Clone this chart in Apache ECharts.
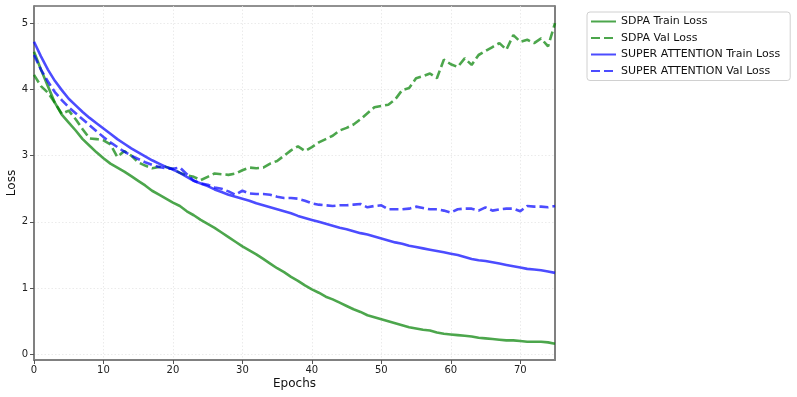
<!DOCTYPE html>
<html>
<head>
<meta charset="utf-8">
<script src="https://cdn.jsdelivr.net/npm/echarts@6/dist/echarts.min.js"></script>
<style>html,body{margin:0;padding:0;background:#fff}#c{width:797px;height:397px}</style>
</head>
<body>
<div id="c"></div>
<script>
const epochs = Array.from({length: 76}, (_, i) => i);
const sdpaTrain = [4.57,4.30,4.05,3.80,3.62,3.50,3.38,3.25,3.15,3.05,2.96,2.88,2.82,2.76,2.69,2.62,2.55,2.47,2.41,2.35,2.29,2.24,2.16,2.10,2.03,1.97,1.91,1.84,1.77,1.70,1.63,1.57,1.51,1.44,1.37,1.30,1.24,1.17,1.11,1.04,0.98,0.93,0.87,0.83,0.78,0.73,0.68,0.64,0.59,0.56,0.53,0.50,0.47,0.44,0.41,0.39,0.37,0.36,0.33,0.31,0.30,0.29,0.28,0.27,0.25,0.24,0.23,0.22,0.21,0.21,0.20,0.19,0.19,0.19,0.18,0.16];
const sdpaVal = [4.22,4.05,3.95,3.80,3.63,3.68,3.55,3.40,3.26,3.25,3.23,3.17,2.98,3.07,3.00,2.90,2.85,2.81,2.83,2.83,2.80,2.74,2.70,2.68,2.63,2.68,2.73,2.72,2.71,2.73,2.78,2.82,2.81,2.82,2.88,2.92,3.00,3.08,3.14,3.07,3.13,3.20,3.25,3.30,3.38,3.42,3.47,3.55,3.64,3.73,3.75,3.77,3.85,3.99,4.02,4.17,4.20,4.24,4.17,4.45,4.38,4.34,4.47,4.37,4.52,4.58,4.64,4.70,4.60,4.82,4.72,4.75,4.70,4.77,4.65,5.00];
const superTrain = [4.72,4.50,4.30,4.13,3.99,3.86,3.76,3.66,3.57,3.49,3.41,3.33,3.25,3.18,3.11,3.05,2.99,2.93,2.88,2.83,2.79,2.74,2.68,2.62,2.58,2.54,2.49,2.45,2.41,2.38,2.35,2.32,2.28,2.25,2.22,2.19,2.16,2.13,2.09,2.06,2.03,2.00,1.97,1.94,1.91,1.89,1.86,1.83,1.81,1.78,1.75,1.72,1.69,1.67,1.64,1.62,1.60,1.58,1.56,1.54,1.52,1.50,1.47,1.44,1.42,1.41,1.39,1.37,1.35,1.33,1.31,1.29,1.28,1.27,1.25,1.23];
const superVal = [4.52,4.30,4.12,3.96,3.84,3.73,3.64,3.55,3.46,3.37,3.28,3.20,3.13,3.06,3.00,2.95,2.90,2.86,2.83,2.81,2.80,2.82,2.72,2.62,2.58,2.56,2.52,2.50,2.46,2.41,2.47,2.43,2.42,2.42,2.41,2.38,2.36,2.36,2.35,2.32,2.28,2.26,2.25,2.24,2.25,2.25,2.26,2.27,2.22,2.24,2.25,2.19,2.19,2.19,2.20,2.23,2.21,2.19,2.19,2.17,2.14,2.19,2.20,2.20,2.17,2.22,2.17,2.19,2.20,2.20,2.16,2.24,2.23,2.23,2.22,2.24];
const seriesNames = ['SDPA Train Loss','SDPA Val Loss','SUPER ATTENTION Train Loss','SUPER ATTENTION Val Loss'];
const yTicks = [0,1,2,3,4,5];
const xTicks = [0,10,20,30,40,50,60,70];

const pair = arr => epochs.map((e, i) => [e, arr[i]]);
const font = 'DejaVu Sans';
const gridLine = {show: true, lineStyle: {color: '#e6e6e6', type: [1.5, 2], width: 0.8}};

function mk(name, data, color, dashed) {
  return {
    name, type: 'line', data: pair(data), showSymbol: false, symbol: 'none',
    lineStyle: {color, width: 2.6, opacity: 0.7, type: dashed ? [9, 4] : 'solid', cap: 'butt'},
    itemStyle: {color, opacity: 0.7},
    animation: false
  };
}

const chart = echarts.init(document.getElementById('c'), null, {renderer: 'canvas'});
chart.setOption({
  animation: false,
  backgroundColor: '#fff',
  textStyle: {fontFamily: font},
  grid: {left: 34, right: 242, top: 6, bottom: 37, containLabel: false, outerBoundsMode: 'none',
         show: true, borderColor: '#222', borderWidth: 1, backgroundColor: 'transparent'},
  legend: {
    orient: 'vertical', left: 587, top: 12,
    itemWidth: 25, itemHeight: 12, itemGap: 5.5,
    padding: [4, 10, 4, 3],
    borderColor: '#d0d0d0', borderWidth: 1, borderRadius: 3,
    itemStyle: {opacity: 0},
    textStyle: {fontFamily: font, fontSize: 11, color: '#111'},
    data: seriesNames
  },
  xAxis: {
    type: 'value', min: 0, max: 75, interval: 10,
    name: 'Epochs', nameLocation: 'middle', nameGap: 18, nameMoveOverlap: false,
    nameTextStyle: {fontFamily: font, fontSize: 12, color: '#111'},
    axisLine: {show: true, onZero: false, lineStyle: {color: '#808080', width: 2}},
    axisTick: {show: true, length: 4, customValues: xTicks, lineStyle: {color: '#555', width: 1}},
    axisLabel: {fontFamily: font, fontSize: 10, color: '#222', margin: 5, customValues: xTicks},
    splitLine: Object.assign({customValues: xTicks}, gridLine)
  },
  yAxis: [{
    type: 'value', min: -0.086, max: 5.26,
    name: 'Loss', nameLocation: 'middle', nameGap: 16, nameRotate: 90, nameMoveOverlap: false,
    nameTextStyle: {fontFamily: font, fontSize: 12, color: '#111'},
    axisLine: {show: true, lineStyle: {color: '#808080', width: 2}},
    axisTick: {show: true, length: 4, customValues: yTicks, lineStyle: {color: '#555', width: 1}},
    axisLabel: {fontFamily: font, fontSize: 10, color: '#222', margin: 6, customValues: yTicks},
    splitLine: Object.assign({customValues: yTicks}, gridLine)
  }, {
    type: 'value', min: -0.086, max: 5.26, position: 'right',
    axisLine: {show: true, lineStyle: {color: '#808080', width: 2}},
    axisTick: {show: false}, axisLabel: {show: false}, splitLine: {show: false}
  }],
  series: [
    mk(seriesNames[0], sdpaTrain, '#008000', false),
    mk(seriesNames[1], sdpaVal, '#008000', true),
    mk(seriesNames[2], superTrain, '#0000ff', false),
    mk(seriesNames[3], superVal, '#0000ff', true)
  ]
});
</script>
</body>
</html>
